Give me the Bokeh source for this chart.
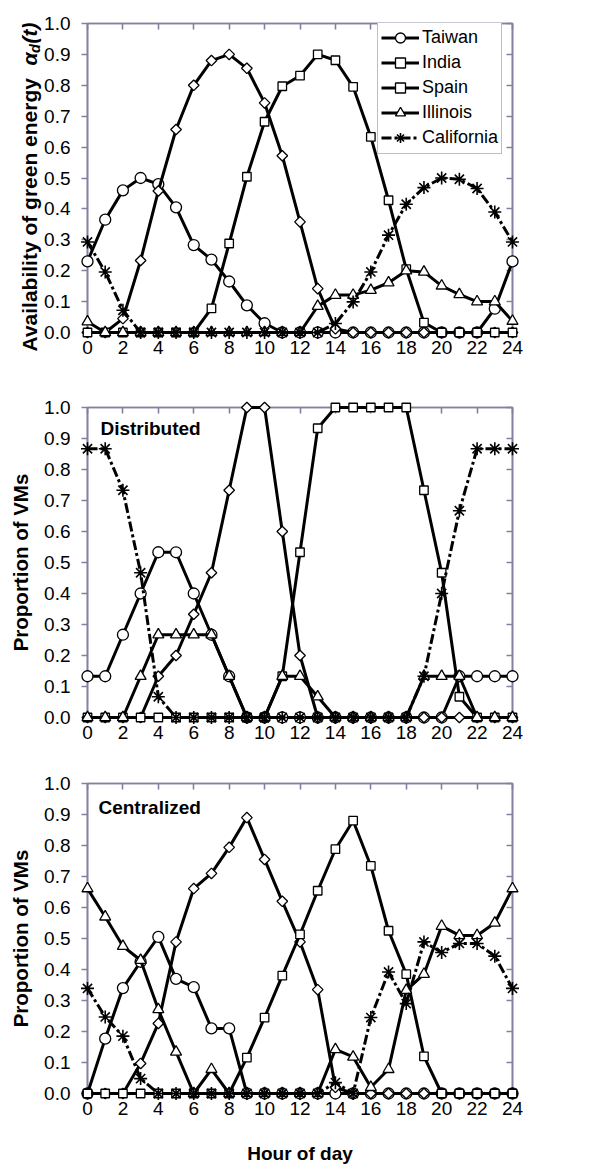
import numpy as np
from bokeh.plotting import figure
from bokeh.layouts import column
from bokeh.models import (Range1d, LinearAxis, FixedTicker, NumeralTickFormatter,
                          Legend, LegendItem, Label)
from bokeh.core.properties import value
from bokeh.embed import file_html
from bokeh.resources import INLINE

# ---------------------------------------------------------------- data
hours = list(range(25))
x_ticks = [0, 2, 4, 6, 8, 10, 12, 14, 16, 18, 20, 22, 24]
y_ticks = [0.0, 0.1, 0.2, 0.3, 0.4, 0.5, 0.6, 0.7, 0.8, 0.9, 1.0]
regions = ["Taiwan", "India", "Spain", "Illinois", "California"]

# availability of green energy per site
avail_taiwan = [0.23, 0.365, 0.46, 0.50, 0.48, 0.405, 0.283, 0.236, 0.165, 0.088, 0.03,
                0, 0, 0, 0, 0, 0, 0, 0, 0, 0, 0, 0, 0.077, 0.23]
avail_india = [0, 0, 0.045, 0.233, 0.458, 0.657, 0.80, 0.88, 0.90, 0.855, 0.743, 0.572,
               0.358, 0.142, 0.012, 0, 0, 0, 0, 0, 0, 0, 0, 0, 0]
avail_spain = [0, 0, 0, 0, 0, 0, 0, 0.078, 0.288, 0.504, 0.682, 0.797, 0.831, 0.90, 0.881,
               0.795, 0.633, 0.428, 0.205, 0.032, 0, 0, 0, 0, 0]
avail_illinois = [0.035, 0, 0, 0, 0, 0, 0, 0, 0, 0, 0, 0, 0, 0.085, 0.121, 0.121, 0.137,
                  0.161, 0.20, 0.196, 0.151, 0.123, 0.10, 0.10, 0.037]
avail_california = [0.293, 0.196, 0.072, 0, 0, 0, 0, 0, 0, 0, 0, 0, 0, 0, 0.029, 0.099,
                    0.196, 0.315, 0.415, 0.469, 0.50, 0.496, 0.466, 0.39, 0.293]

# share of VMs placed at each site, distributed scheduling
dist_taiwan = [0.133, 0.133, 0.267, 0.4, 0.533, 0.533, 0.4, 0.267, 0.133, 0, 0, 0, 0, 0, 0,
               0, 0, 0, 0, 0, 0, 0.133, 0.133, 0.133, 0.133]
dist_india = [0, 0, 0, 0, 0.133, 0.2, 0.333, 0.467, 0.733, 1.0, 1.0, 0.6, 0.2, 0, 0, 0, 0,
              0, 0, 0, 0, 0, 0, 0, 0]
dist_spain = [0, 0, 0, 0, 0, 0, 0, 0, 0, 0, 0, 0.133, 0.533, 0.933, 1.0, 1.0, 1.0, 1.0, 1.0,
              0.733, 0.467, 0.067, 0, 0, 0]
dist_illinois = [0, 0, 0, 0.133, 0.267, 0.267, 0.267, 0.267, 0.133, 0, 0, 0.133, 0.133,
                 0.067, 0, 0, 0, 0, 0, 0.133, 0.133, 0.133, 0, 0, 0]
dist_california = [0.867, 0.867, 0.733, 0.467, 0.067, 0, 0, 0, 0, 0, 0, 0, 0, 0, 0, 0, 0,
                   0, 0, 0.133, 0.4, 0.667, 0.867, 0.867, 0.867]

# share of VMs placed at each site, centralized scheduling
cent_taiwan = [0, 0.177, 0.34, 0.425, 0.505, 0.37, 0.343, 0.21, 0.21, 0, 0, 0, 0, 0, 0, 0,
               0, 0, 0, 0, 0, 0, 0, 0, 0]
cent_india = [0, 0, 0, 0.097, 0.226, 0.489, 0.661, 0.71, 0.794, 0.89, 0.755, 0.62, 0.489,
              0.335, 0.02, 0, 0, 0, 0, 0, 0, 0, 0, 0, 0]
cent_spain = [0, 0, 0, 0, 0, 0, 0, 0, 0, 0.116, 0.245, 0.38, 0.513, 0.654, 0.788, 0.88,
              0.734, 0.525, 0.385, 0.12, 0, 0, 0, 0, 0]
cent_illinois = [0.661, 0.57, 0.475, 0.43, 0.271, 0.134, 0, 0.078, 0, 0, 0, 0, 0, 0, 0.142,
                 0.118, 0.02, 0.078, 0.333, 0.385, 0.54, 0.51, 0.51, 0.55, 0.661]
cent_california = [0.339, 0.247, 0.185, 0.048, 0, 0, 0, 0, 0, 0, 0, 0, 0, 0, 0.035, 0,
                   0.245, 0.392, 0.29, 0.489, 0.455, 0.484, 0.484, 0.443, 0.339]

# ---------------------------------------------------------------- styling
FONT = "Liberation Sans"
GREY = "#8282a0"
FRAME_W = 1.6
MARKERS = {
    "Taiwan": dict(marker="circle", size=11, angle=0.0, lw=1.3),
    "India": dict(marker="square", size=7.5, angle=np.pi / 4, lw=1.3),
    "Spain": dict(marker="square", size=8.5, angle=0.0, lw=1.3),
    "Illinois": dict(marker="triangle", size=11, angle=0.0, lw=1.3),
    "California": dict(marker="asterisk", size=13, angle=0.0, lw=1.6),
}
DASHES = {"California": "10 3 3 3"}


def make_panel(series, height, border_top, border_bottom, ylabel=None, xlabel=None):
    p = figure(width=606, height=height, x_range=Range1d(0, 24), y_range=Range1d(0, 1),
               output_backend="svg", toolbar_location=None,
               min_border_left=87, min_border_right=94,
               min_border_top=border_top, min_border_bottom=border_bottom)
    p.grid.visible = False
    p.outline_line_color = GREY
    p.outline_line_width = FRAME_W
    p.background_fill_color = "white"
    p.border_fill_color = "white"

    xa = p.xaxis[0]
    xa.ticker = FixedTicker(ticks=x_ticks)
    xa.major_tick_in = 0
    xa.major_tick_out = 0
    xa.minor_tick_line_color = None
    xa.axis_line_color = GREY
    xa.axis_line_width = FRAME_W
    xa.major_label_text_font = FONT
    xa.major_label_text_font_size = "19px"
    xa.major_label_text_color = "black"
    xa.major_label_standoff = 8
    if xlabel:
        xa.axis_label = xlabel
        xa.axis_label_text_font = FONT
        xa.axis_label_text_font_style = "bold"
        xa.axis_label_text_font_size = "19px"
        xa.axis_label_text_color = "black"
        xa.axis_label_standoff = 25

    ya = p.yaxis[0]
    ya.ticker = FixedTicker(ticks=y_ticks)
    ya.formatter = NumeralTickFormatter(format="0.0")
    ya.major_tick_in = 0
    ya.major_tick_out = 6
    ya.minor_tick_line_color = None
    ya.axis_line_color = GREY
    ya.axis_line_width = FRAME_W
    ya.major_tick_line_color = GREY
    ya.major_tick_line_width = FRAME_W
    ya.major_label_text_font = FONT
    ya.major_label_text_font_size = "19px"
    ya.major_label_text_color = "black"
    ya.major_label_standoff = 11
    if ylabel:
        ya.axis_label = ylabel
        ya.axis_label_text_font = FONT
        ya.axis_label_text_font_style = "bold"
        ya.axis_label_text_font_size = "20.5px"
        ya.axis_label_text_color = "black"
        ya.axis_label_standoff = 9

    # mirrored frame ticks on the top and right edges, pointing inwards
    top = LinearAxis(ticker=FixedTicker(ticks=x_ticks), major_tick_in=6, major_tick_out=0,
                     minor_tick_line_color=None, axis_line_color=GREY,
                     axis_line_width=FRAME_W, major_tick_line_color=GREY,
                     major_tick_line_width=FRAME_W, major_label_text_color=None)
    right = LinearAxis(ticker=FixedTicker(ticks=y_ticks), major_tick_in=6, major_tick_out=0,
                       minor_tick_line_color=None, axis_line_color=GREY,
                       axis_line_width=FRAME_W, major_tick_line_color=GREY,
                       major_tick_line_width=FRAME_W, major_label_text_color=None)
    p.add_layout(top, "above")
    p.add_layout(right, "right")

    items = []
    for name, vals in zip(regions, series):
        st = MARKERS[name]
        ln = p.line(hours, vals, line_color="black", line_width=3,
                    line_dash=DASHES.get(name, "solid"), level="overlay")
        mk = p.scatter(hours, vals, marker=st["marker"], size=st["size"], angle=st["angle"],
                       fill_color="white", line_color="black", line_width=st["lw"],
                       level="overlay")
        items.append(LegendItem(label=name, renderers=[ln, mk]))
    return p, items


# ---------------------------------------------------------------- panel 1
p1, items1 = make_panel([avail_taiwan, avail_india, avail_spain, avail_illinois,
                         avail_california], 380, 23, 48)
legend = Legend(items=items1, location=(290, 178), margin=0, padding=3, spacing=0,
                glyph_width=38, glyph_height=25, label_height=25, label_standoff=3,
                label_text_font=FONT, label_text_font_size="18px",
                label_text_color="black", border_line_color="#808080",
                border_line_width=1.3, background_fill_color="white",
                background_fill_alpha=1.0)
p1.add_layout(legend)

# y title with a subscripted symbol: pieces laid along one rotated baseline,
# anchored at the lower-left corner of the frame and shifted in pixels
title_parts = [
    ("Availability of green energy  ", "bold", "21px", 0, 0.0),
    ("\u03b1", "bold italic", "21px", 0, 285.9),
    ("d", "bold italic", "14.5px", 5, 298.5),
    ("(t)", "bold italic", "21px", 0, 308.0),
]
for txt, style, size, dx, dy in title_parts:
    p1.text(x=[0], y=[0], text=[txt], angle=np.pi / 2, x_offset=-58 + dx, y_offset=19 - dy,
            text_font=value(FONT), text_font_style=style, text_font_size=size,
            text_color="black", text_align="left", text_baseline="alphabetic",
            level="overlay")

# ---------------------------------------------------------------- panel 2
p2, _ = make_panel([dist_taiwan, dist_india, dist_spain, dist_illinois, dist_california],
                   385, 27, 48, ylabel="Proportion of VMs")
p2.add_layout(Label(x=0.73, y=0.932, text="Distributed", text_font=FONT,
                    text_font_style="bold", text_font_size="19px", text_color="black",
                    text_align="left", text_baseline="middle"))

# ---------------------------------------------------------------- panel 3
p3, _ = make_panel([cent_taiwan, cent_india, cent_spain, cent_illinois, cent_california],
                   406, 18, 78, ylabel="Proportion of VMs", xlabel="Hour of day")
p3.add_layout(Label(x=0.62, y=0.924, text="Centralized", text_font=FONT,
                    text_font_style="bold", text_font_size="19px", text_color="black",
                    text_align="left", text_baseline="middle"))

layout = column(p1, p2, p3, spacing=0)
open("out.html", "w").write(file_html(layout, INLINE))
